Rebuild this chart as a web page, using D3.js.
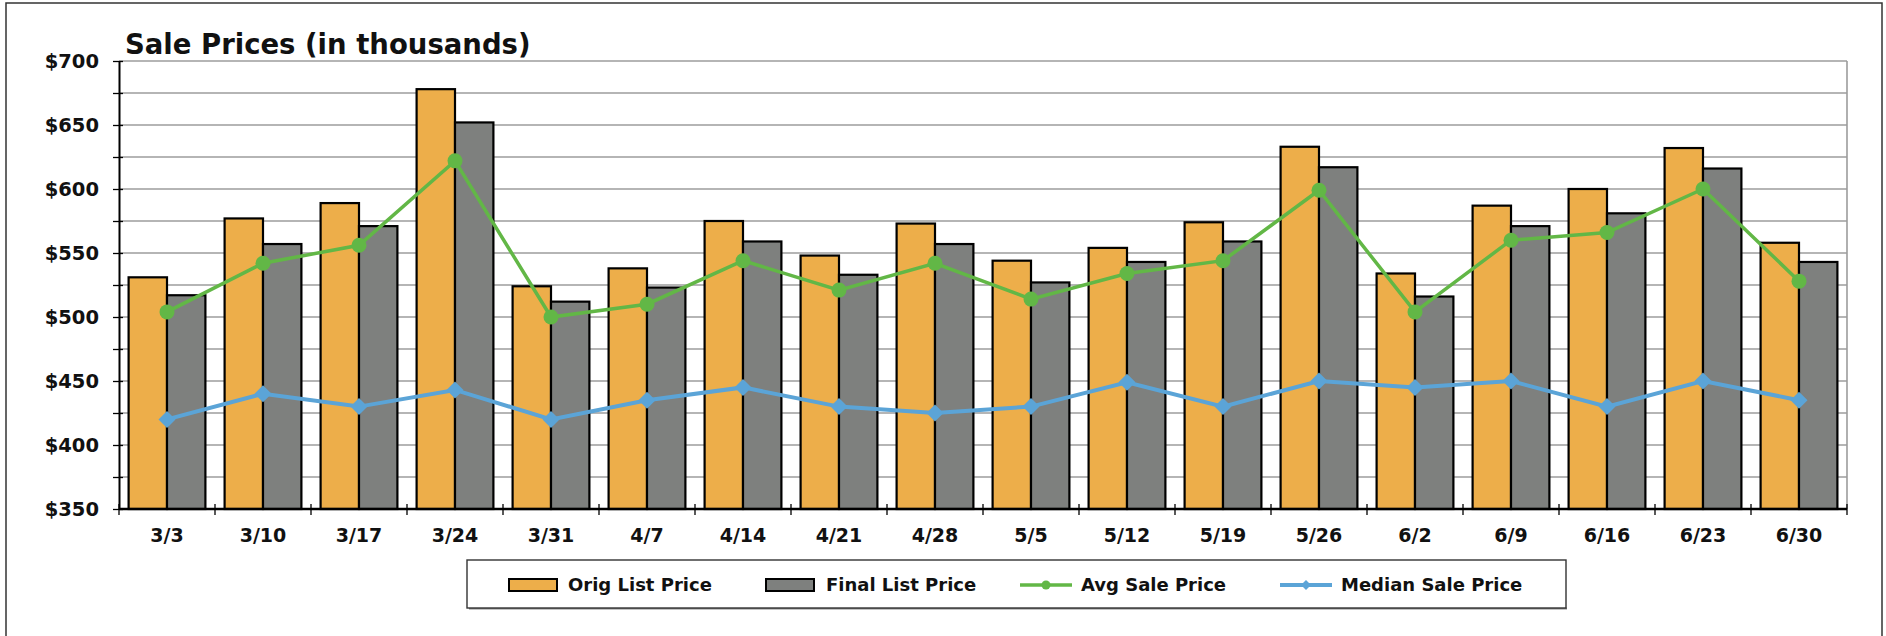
<!DOCTYPE html>
<html>
<head>
<meta charset="utf-8">
<script src="https://cdn.jsdelivr.net/npm/d3@7"></script>
<style>
  html, body { margin: 0; padding: 0; background: #fff; }
  svg { display: block; }
  text { font-family: "DejaVu Sans", sans-serif; font-weight: bold; fill: #111; }
</style>
</head>
<body>
<svg id="chart" width="1886" height="636"></svg>
<script>
const categories = ["3/3","3/10","3/17","3/24","3/31","4/7","4/14","4/21","4/28","5/5","5/12","5/19","5/26","6/2","6/9","6/16","6/23","6/30"];
const origList   = [531,577,589,678,524,538,575,548,573,544,554,574,633,534,587,600,632,558];
const finalList  = [517,557,571,652,512,523,559,533,557,527,543,559,617,516,571,581,616,543];
const avgSale    = [504,542,556,622,500,510,544,521,542,514,534,544,599,504,560,566,600,528];
const medianSale = [420,440,430,443,420,435,445,430,425,430,449,430,450,445,450,430,450,435];
const yTickValues = [350,400,450,500,550,600,650,700];
const seriesNames = ["Orig List Price","Final List Price","Avg Sale Price","Median Sale Price"];
const title = "Sale Prices (in thousands)";

const colors = { orig: "#EDAE4A", final: "#7E807E", avg: "#62B746", median: "#5BA4D7" };

const svg = d3.select("#chart");
svg.append("rect").attr("width", 1886).attr("height", 636).attr("fill", "#fff");
// outer frame
svg.append("rect").attr("x", 6).attr("y", 3).attr("width", 1876).attr("height", 700)
  .attr("fill", "none").attr("stroke", "#333").attr("stroke-width", 1.5);

const L = 119, R = 1847, T = 61, B = 509;
const x = d3.scaleBand().domain(categories).range([L, R]).paddingInner(0.2).paddingOuter(0.1);
const x1 = d3.scaleBand().domain(["orig","final"]).range([0, x.bandwidth()]);
const y = d3.scaleLinear().domain([350, 700]).range([B, T]);

// gridlines every 25
const gridVals = d3.range(375, 701, 25);
svg.append("g").selectAll("line").data(gridVals).join("line")
  .attr("x1", L).attr("x2", R).attr("y1", d => y(d)).attr("y2", d => y(d))
  .attr("stroke", "#9c9c9c").attr("stroke-width", 1.6);
svg.append("line").attr("x1", R).attr("x2", R).attr("y1", T).attr("y2", B)
  .attr("stroke", "#9c9c9c").attr("stroke-width", 1.6);

// bars
const barG = svg.append("g");
categories.forEach((c, i) => {
  const g = barG.append("g").attr("transform", `translate(${x(c)},0)`);
  [["orig", origList[i]], ["final", finalList[i]]].forEach(([k, v]) => {
    g.append("rect").attr("x", x1(k)).attr("y", y(v))
      .attr("width", x1.bandwidth()).attr("height", B - y(v))
      .attr("fill", colors[k]).attr("stroke", "#000").attr("stroke-width", 2.2);
  });
});

// y axis
const yAxis = d3.axisLeft(y).tickValues(d3.range(350, 701, 25)).tickSize(0).tickFormat("");
const ya = svg.append("g").attr("transform", `translate(${L},0)`).call(yAxis);
ya.select(".domain").attr("stroke", "#000").attr("stroke-width", 2);
ya.selectAll(".tick line").remove();
ya.selectAll(".tick").append("line").attr("x1", -6).attr("x2", 4).attr("stroke", "#000").attr("stroke-width", 1.3);
svg.append("g").selectAll("text").data(yTickValues).join("text")
  .attr("x", 99).attr("y", d => y(d)).attr("dy", "0.36em").attr("text-anchor", "end")
  .attr("font-size", 19.5).text(d => "$" + d);

// x axis
svg.append("line").attr("x1", L).attr("x2", R).attr("y1", B).attr("y2", B)
  .attr("stroke", "#000").attr("stroke-width", 2.4);
const bounds = d3.range(categories.length + 1).map(i => L + i * x.step());
svg.append("g").selectAll("line").data(bounds).join("line")
  .attr("x1", d => d).attr("x2", d => d).attr("y1", B - 5).attr("y2", B + 6)
  .attr("stroke", "#000").attr("stroke-width", 1.3);
svg.append("g").selectAll("text").data(categories).join("text")
  .attr("x", d => x(d) + x.bandwidth() / 2).attr("y", 535).attr("dy", "0.36em")
  .attr("text-anchor", "middle").attr("font-size", 19).text(d => d);

// lines
const cx = (c) => x(c) + x.bandwidth() / 2;
const lineGen = d3.line().x(d => cx(d.c)).y(d => y(d.v));
const avgData = categories.map((c, i) => ({ c, v: avgSale[i] }));
const medData = categories.map((c, i) => ({ c, v: medianSale[i] }));
const diamond = (s) => `M0,${-s}L${s},0L0,${s}L${-s},0Z`;

svg.append("path").datum(medData).attr("d", lineGen).attr("fill", "none")
  .attr("stroke", colors.median).attr("stroke-width", 4);
svg.append("g").selectAll("path").data(medData).join("path")
  .attr("transform", d => `translate(${cx(d.c)},${y(d.v)})`).attr("d", diamond(8.5))
  .attr("fill", colors.median);

svg.append("path").datum(avgData).attr("d", lineGen).attr("fill", "none")
  .attr("stroke", colors.avg).attr("stroke-width", 3.5);
svg.append("g").selectAll("circle").data(avgData).join("circle")
  .attr("cx", d => cx(d.c)).attr("cy", d => y(d.v)).attr("r", 7.5)
  .attr("fill", colors.avg);

// title
svg.append("text").attr("x", 125).attr("y", 54).attr("font-size", 27.5).text(title);

// legend
const lg = svg.append("g");
lg.append("line").attr("x1", 469).attr("x2", 1567).attr("y1", 608.5).attr("y2", 608.5)
  .attr("stroke", "#888").attr("stroke-width", 2);
lg.append("rect").attr("x", 467).attr("y", 560).attr("width", 1099).attr("height", 48)
  .attr("fill", "#fff").attr("stroke", "#333").attr("stroke-width", 1.4);
const ly = 585;
const items = [
  { name: seriesNames[0], type: "bar", color: colors.orig, sx: 509, tx: 568 },
  { name: seriesNames[1], type: "bar", color: colors.final, sx: 766, tx: 826 },
  { name: seriesNames[2], type: "circle", color: colors.avg, sx: 1020, tx: 1081 },
  { name: seriesNames[3], type: "diamond", color: colors.median, sx: 1280, tx: 1341 }
];
items.forEach(it => {
  if (it.type === "bar") {
    lg.append("rect").attr("x", it.sx).attr("y", ly - 6).attr("width", 48).attr("height", 12)
      .attr("fill", it.color).attr("stroke", "#000").attr("stroke-width", 2);
  } else {
    lg.append("line").attr("x1", it.sx).attr("x2", it.sx + 52).attr("y1", ly).attr("y2", ly)
      .attr("stroke", it.color).attr("stroke-width", it.type === "circle" ? 3.5 : 4);
    if (it.type === "circle") {
      lg.append("circle").attr("cx", it.sx + 26).attr("cy", ly).attr("r", 4.5).attr("fill", it.color);
    } else {
      lg.append("path").attr("transform", `translate(${it.sx + 26},${ly})`).attr("d", diamond(5)).attr("fill", it.color);
    }
  }
  lg.append("text").attr("x", it.tx).attr("y", ly).attr("dy", "0.36em").attr("font-size", 18).text(it.name);
});
</script>
</body>
</html>
